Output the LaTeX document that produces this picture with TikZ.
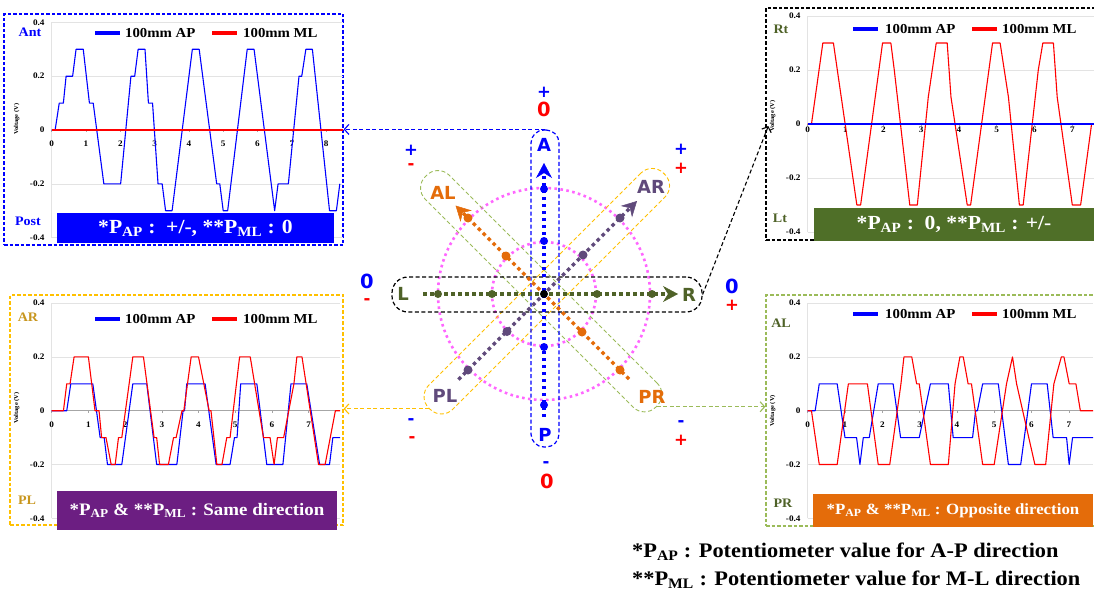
\documentclass[tikz,border=0pt]{standalone}
\usepackage{fontspec}
\setmainfont{Liberation Serif}[FakeStretch=1.08]
\newfontfamily\dejavu{DejaVu Sans}
\usetikzlibrary{arrows.meta,positioning,calc}
\definecolor{mlgreen}{RGB}{79,98,40}
\definecolor{alorange}{RGB}{228,108,10}
\definecolor{arpurple}{RGB}{96,74,123}
\definecolor{pinkdot}{RGB}{255,102,255}
\definecolor{gold}{RGB}{255,192,0}
\definecolor{lightgreen}{RGB}{155,187,89}
\definecolor{goldtext}{RGB}{200,150,30}
\definecolor{capgreen}{RGB}{79,111,40}
\definecolor{cappurple}{RGB}{108,30,130}
\definecolor{caporange}{RGB}{228,108,10}

\begin{document}
\begin{tikzpicture}[x=1pt, y=-1pt,
	panel/.style={draw, line width=1.3pt, dash pattern=on 3.5pt off 2pt, fill=white},
	gridline/.style={draw=gray!22, line width=0.6pt},
	axisline/.style={draw=gray!70, line width=0.6pt},
	tick/.style={font=\bfseries\fontsize{8.5}{9}\selectfont, inner sep=0pt},
	volt/.style={font=\bfseries\fontsize{6}{7}\selectfont, rotate=90, inner sep=0pt},
	sig/.style={line width=1.1pt, line join=round},
	legline/.style={line width=4pt},
	leg/.style={font=\bfseries\fontsize{13.7}{15}\selectfont, anchor=west, inner sep=0pt},
	side/.style={font=\bfseries\fontsize{13}{15}\selectfont, inner sep=0pt},
	capbox/.style={text=white, inner sep=0pt},
	dirlabel/.style={font=\dejavu\bfseries\fontsize{18}{20}\selectfont, inner sep=0pt},
	sgn/.style={font=\dejavu\bfseries\fontsize{16.5}{18}\selectfont, inner sep=0pt},
	zero/.style={font=\dejavu\bfseries\fontsize{19.5}{21}\selectfont, inner sep=0pt},
	track/.style={line width=3.5pt, dash pattern=on 3.5pt off 3.5pt},
	head/.style={-{Stealth[length=15pt,width=16pt,inset=5pt,line width=0.5pt]}},
	ring/.style={draw=pinkdot, line width=2.6pt, dash pattern=on 2.6pt off 3.4pt},
	zone/.style={line width=1.2pt, dash pattern=on 4pt off 2.5pt},
	link/.style={line width=1.1pt, dash pattern=on 4pt off 2.5pt},
	barb/.style={-{Straight Barb[length=4.5pt,width=10pt,line width=1.1pt]}},
	note/.style={font=\bfseries\fontsize{20.7}{22}\selectfont, anchor=west, inner sep=0pt}]
	\useasboundingbox (0,0) rectangle (1094,594);

	% panels
	\node[panel, draw=blue, minimum width=339pt, minimum height=231pt] (TL) at (173.5,129.5) {};
	\node[panel, draw=black, minimum width=332pt, minimum height=232pt] (TR) at (932,124) {};
	\node[panel, draw=gold, minimum width=333pt, minimum height=230pt] (BL) at (176.5,410) {};
	\node[panel, draw=lightgreen, minimum width=331pt, minimum height=231pt] (BR) at (931.5,410.5) {};

	% top-left plot
	\begin{scope}[shift={(51.7,130)}, x=34.3pt, y=269pt]
		\foreach \v in {-0.4,-0.2,0.2,0.4} \draw[gridline] (0,\v) -- (8.5,\v);
		\draw[gridline] (0,-0.4) -- (0,0.4);
		\draw[axisline] (0,0) -- (8.5,0);
		\foreach \t in {0,...,8} {\draw[axisline] (\t,0) -- ++(0,-2pt);
			\node[tick] (tlx\t) at ([yshift=-14pt]\t,0) {\t};}
		\foreach \v [count=\i] in {0.4,0.2,0,-0.2,-0.4} \node[tick, left=7pt] (tly\i) at (0,\v) {\v};
		\node[volt] (tlv) at ([xshift=-35pt]0,0.04) {Voltage (V)};
		\draw[sig, blue] plot coordinates {(0,0) (0.1,0) (0.22,0.1) (0.34,0.1) (0.42,0.2) (0.61,0.2) (0.71,0.3) (0.92,0.3) (1.1,0.1) (1.21,0.1) (1.52,-0.2) (2.01,-0.2) (2.31,0.2) (2.42,0.2) (2.52,0.3) (2.72,0.3) (2.82,0.1) (2.94,0.1) (3.1,-0.2) (3.22,-0.2) (3.32,-0.3) (3.51,-0.3) (4.1,0.3) (4.3,0.3) (4.81,-0.2) (4.9,-0.2) (5.0,-0.3) (5.13,-0.3) (5.7,0.3) (5.9,0.3) (6.5,-0.3) (6.6,-0.2) (6.9,-0.2) (7.21,0.2) (7.29,0.2) (7.41,0.3) (7.6,0.3) (8.1,-0.3) (8.3,-0.3) (8.4,-0.2)};
		\draw[sig, red] (0,0) -- (8.5,0);
	\end{scope}
	\draw[legline, blue] (95,33) -- (120,33);
	\node[leg] (tlap) at (125,33) {100mm AP};
	\draw[legline, red] (212,33) -- (237,33);
	\node[leg] (tlml) at (243,33) {100mm ML};
	\node[side, text=blue] (ant) at (30,32) {Ant};
	\node[side, text=blue] (post) at (28,221) {Post};
	\node[capbox, fill=blue, minimum width=277pt, minimum height=30pt, font=\bfseries\fontsize{20}{22}\selectfont] (TLcap) at (195.5,228) {*P\textsubscript{AP} :\ \ +/-, **P\textsubscript{ML} : 0};

	% top-right plot
	\begin{scope}[shift={(807.7,124)}, x=37.8pt, y=270pt]
		\foreach \v in {-0.4,-0.2,0.2,0.4} \draw[gridline] (0,\v) -- (7.6,\v);
		\draw[gridline] (0,-0.4) -- (0,0.4);
		\draw[axisline] (0,0) -- (7.6,0);
		\foreach \t in {0,...,7} {\draw[axisline] (\t,0) -- ++(0,-2pt);
			\node[tick] (trx\t) at ([yshift=-6pt]\t,0) {\t};}
		\foreach \v [count=\i] in {0.4,0.2,0,-0.2,-0.4} \node[tick, left=7pt] (try\i) at (0,\v) {\v};
		\node[volt] (trv) at ([xshift=-35pt]0,0.03) {Voltage (V)};
		\draw[sig, red] plot coordinates {(0,0) (0.1,0) (0.4,0.3) (0.68,0.3) (1.3,-0.3) (1.4,-0.3) (1.98,0.3) (2.2,0.3) (2.29,0.2) (2.7,-0.3) (2.9,-0.3) (3.19,0.1) (3.4,0.3) (3.69,0.3) (3.79,0.1) (4.22,-0.3) (4.31,-0.3) (4.89,0.3) (5.09,0.3) (5.31,0.1) (5.6,-0.3) (5.7,-0.3) (6.1,0.2) (6.22,0.3) (6.5,0.3) (6.6,0.1) (7.0,-0.3) (7.22,-0.3) (7.51,0) (7.6,0)};
		\draw[sig, blue] (0,0) -- (7.6,0);
	\end{scope}
	\draw[legline, blue] (853,29) -- (878,29);
	\node[leg] (trap) at (885,29) {100mm AP};
	\draw[legline, red] (972,29) -- (997,29);
	\node[leg] (trml) at (1002,29) {100mm ML};
	\node[side, text=mlgreen] (rt) at (781,29) {Rt};
	\node[side, text=mlgreen] (lt) at (780,218) {Lt};
	\node[capbox, fill=capgreen, minimum width=280pt, minimum height=33pt, font=\bfseries\fontsize{20}{22}\selectfont] (TRcap) at (954,224.5) {*P\textsubscript{AP} :\ \ 0, **P\textsubscript{ML} : +/-};

	% bottom-left plot
	\begin{scope}[shift={(51.7,410.7)}, x=36.7pt, y=269pt]
		\foreach \v in {-0.4,-0.2,0.2,0.4} \draw[gridline] (0,\v) -- (7.86,\v);
		\draw[gridline] (0,-0.4) -- (0,0.4);
		\draw[axisline] (0,0) -- (7.86,0);
		\foreach \t in {0,...,7} {\draw[axisline] (\t,0) -- ++(0,-2pt);
			\node[tick] (blx\t) at ([yshift=-14pt]\t,0) {\t};}
		\foreach \v [count=\i] in {0.4,0.2,0,-0.2,-0.4} \node[tick, left=7pt] (bly\i) at (0,\v) {\v};
		\node[volt] (blv) at ([xshift=-35pt]0,0.01) {Voltage (V)};
		\draw[sig, blue] plot coordinates {(0,0) (0.41,0) (0.52,0.1) (1.12,0.1) (1.32,-0.1) (1.43,-0.1) (1.52,-0.2) (1.91,-0.2) (2.21,0.1) (2.59,0.1) (2.86,-0.2) (3.41,-0.2) (3.58,0) (3.62,0) (3.68,0.1) (4.18,0.1) (4.48,-0.2) (4.86,-0.2) (4.98,-0.1) (5.05,-0.1) (5.15,0.1) (5.59,0.1) (5.86,-0.2) (6.3,-0.2) (6.52,0.1) (6.95,0.1) (7.3,-0.2) (7.57,-0.2) (7.66,-0.1) (7.86,-0.1)};
		\draw[sig, red] plot coordinates {(0,0) (0.32,0) (0.41,0.1) (0.5,0.1) (0.61,0.2) (1.0,0.2) (1.18,0) (1.29,0) (1.36,-0.1) (1.48,-0.1) (1.62,-0.2) (1.73,-0.2) (1.82,-0.1) (1.91,-0.1) (2.21,0.2) (2.5,0.2) (2.79,-0.1) (2.86,-0.1) (2.94,-0.2) (3.18,-0.2) (3.32,-0.1) (3.39,-0.1) (3.55,0) (3.6,0) (3.8,0.2) (4.0,0.2) (4.29,0) (4.34,0) (4.5,-0.2) (4.64,-0.2) (4.77,-0.1) (4.86,-0.1) (5.12,0.2) (5.41,0.2) (5.77,-0.1) (5.95,-0.1) (6.06,-0.2) (6.15,-0.1) (6.32,-0.1) (6.6,0.1) (6.68,0.2) (6.82,0.2) (7.27,-0.2) (7.45,-0.2) (7.59,-0.1) (7.73,0) (7.86,0)};
	\end{scope}
	\draw[legline, blue] (95,319) -- (120,319);
	\node[leg] (blap) at (125,319) {100mm AP};
	\draw[legline, red] (212,319) -- (237,319);
	\node[leg] (blml) at (243,319) {100mm ML};
	\node[side, text=goldtext] (blar) at (28,317) {AR};
	\node[side, text=goldtext] (blpl) at (27,500) {PL};
	\node[capbox, fill=cappurple, minimum width=280pt, minimum height=39pt, font=\bfseries\fontsize{17.5}{20}\selectfont] (BLcap) at (197,510.5) {*P\textsubscript{AP} \& **P\textsubscript{ML} : Same direction};

	% bottom-right plot
	\begin{scope}[shift={(807.7,410.7)}, x=37.3pt, y=269pt]
		\foreach \v in {-0.4,-0.2,0.2,0.4} \draw[gridline] (0,\v) -- (7.65,\v);
		\draw[gridline] (0,-0.4) -- (0,0.4);
		\draw[axisline] (0,0) -- (7.65,0);
		\foreach \t in {0,...,7} {\draw[axisline] (\t,0) -- ++(0,-2pt);
			\node[tick] (brx\t) at ([yshift=-14pt]\t,0) {\t};}
		\foreach \v [count=\i] in {0.4,0.2,0,-0.2,-0.4} \node[tick, left=7pt] (bry\i) at (0,\v) {\v};
		\node[volt] (brv) at ([xshift=-35pt]0,0) {Voltage (V)};
		\draw[sig, blue] plot coordinates {(0,0) (0.2,0) (0.31,0.1) (0.79,0.1) (1.0,-0.1) (1.31,-0.1) (1.4,-0.2) (1.49,-0.1) (1.65,-0.1) (1.89,0.1) (2.29,0.1) (2.49,-0.1) (2.99,-0.1) (3.29,0.1) (3.77,0.1) (3.9,-0.1) (4.42,-0.1) (4.5,0) (4.55,0) (4.69,0.1) (5.11,0.1) (5.38,-0.2) (5.71,-0.2) (6.0,0.1) (6.42,0.1) (6.58,-0.1) (6.94,-0.1) (7.01,-0.2) (7.1,-0.1) (7.65,-0.1)};
		\draw[sig, red] plot coordinates {(0,0) (0.1,0) (0.31,-0.2) (0.79,-0.2) (1.09,0.1) (1.6,0.1) (1.89,-0.2) (2.2,-0.2) (2.5,0.1) (2.58,0.2) (2.79,0.2) (2.92,0.1) (2.99,0.1) (3.29,-0.2) (3.77,-0.2) (3.95,0.1) (4.08,0.2) (4.17,0.2) (4.3,0.1) (4.39,0.1) (4.69,-0.2) (5.0,-0.2) (5.33,0.1) (5.49,0.2) (5.6,0.1) (6.09,-0.2) (6.38,-0.2) (6.6,0.1) (6.8,0.2) (6.87,0.2) (7.01,0.1) (7.19,0.1) (7.31,0) (7.65,0)};
	\end{scope}
	\draw[legline, blue] (853,314) -- (878,314);
	\node[leg] (brap) at (885,314) {100mm AP};
	\draw[legline, red] (972,314) -- (997,314);
	\node[leg] (brml) at (1002,314) {100mm ML};
	\node[side, text=mlgreen] (bral) at (781,323) {AL};
	\node[side, text=mlgreen] (brpr) at (783,503) {PR};
	\node[capbox, fill=caporange, minimum width=280pt, minimum height=33pt, font=\bfseries\fontsize{15.6}{18}\selectfont] (BRcap) at (953,510.5) {*P\textsubscript{AP} \& **P\textsubscript{ML} : Opposite direction};

	% centre: rings and boxes
	\coordinate (O) at (544,294);
	\draw[ring] (O) circle (52);
	\draw[ring] (O) circle (106);
	\node[zone, line width=0.9pt, draw=gold, rounded corners=16pt, minimum width=332pt, minimum height=34pt, rotate=45] (ARbox) at (546.8,291.2) {};
	\node[zone, line width=0.9pt, draw=lightgreen, rounded corners=16pt, minimum width=326pt, minimum height=34pt, rotate=-45] (ALbox) at (541.2,291.2) {};
	\node[zone, draw=blue, rounded corners=13pt, minimum width=28pt, minimum height=317pt] (APbox) at (545,288.5) {};
	\node[zone, draw=black, rounded corners=16pt, minimum width=310pt, minimum height=35pt] (MLbox) at (547,294.5) {};

	% centre: tracks
	\coordinate (mlS) at (423,294);  \coordinate (mlE) at (678,294);
	\coordinate (arS) at (458.4,379.6); \coordinate (arE) at (637,201);
	\coordinate (alS) at (629,379);  \coordinate (alE) at (455.6,205.6);
	\coordinate (apS) at (544,417);  \coordinate (apE) at (544,163);
	\draw[track, mlgreen, head] (mlS) -- (mlE);
	\foreach \x in {438,492,597,652} \fill[mlgreen] (\x,294) circle (4);
	\draw[track, arpurple, head] (arS) -- (arE);
	\foreach \x/\y in {583/255,620/218,507/331.5,468/370} \fill[arpurple] (\x,\y) circle (4.5);
	\draw[track, alorange, head] (alS) -- (alE);
	\foreach \x/\y in {468/218,506/256,582/332,620/370} \fill[alorange] (\x,\y) circle (4.5);
	\draw[track, blue, head] (apS) -- (apE);
	\foreach \y in {189,241,347,405} \fill[blue] (544,\y) circle (4);
	\fill (O) circle (4);

	% centre: labels
	\node[dirlabel, text=blue] (A) at (544,145) {A};
	\node[dirlabel, text=blue] (P) at (545,435) {P};
	\node[dirlabel, text=mlgreen] (L) at (403,294) {L};
	\node[dirlabel, text=mlgreen] (R) at (689,295) {R};
	\node[dirlabel, text=alorange] (AL) at (443,193) {AL};
	\node[dirlabel, text=arpurple] (AR) at (651,187) {AR};
	\node[dirlabel, text=arpurple] (PL) at (445,396) {PL};
	\node[dirlabel, text=alorange] (PR) at (652,397) {PR};

	% centre: signs
	\node[sgn, text=blue] (sAap) at (544,92) {+};
	\node[zero, text=red] (sAml) at (544,109) {0};
	\node[sgn, text=blue] (sPap) at (546,465) {-};
	\node[zero, text=red] (sPml) at (547,481) {0};
	\node[zero, text=blue] (sLap) at (367,281) {0};
	\node[sgn, text=red] (sLml) at (367,302) {-};
	\node[zero, text=blue] (sRap) at (732,286) {0};
	\node[sgn, text=red] (sRml) at (732,305) {+};
	\node[sgn, text=blue] (sALap) at (411,150) {+};
	\node[sgn, text=red] (sALml) at (411,167) {-};
	\node[sgn, text=blue] (sARap) at (681,149) {+};
	\node[sgn, text=red] (sARml) at (681,168) {+};
	\node[sgn, text=blue] (sPLap) at (411,422) {-};
	\node[sgn, text=red] (sPLml) at (412,440) {-};
	\node[sgn, text=blue] (sPRap) at (681,424) {-};
	\node[sgn, text=red] (sPRml) at (681,440) {+};

	% links to the plots
	\draw[link, blue, barb] (APbox.north) -- (APbox.north -| TL.east);
	\draw[link, black, barb] (MLbox.east) -- ([xshift=3pt,yshift=-2pt]TR.west);
	\draw[link, gold, barb] (ARbox.west) -- (ARbox.west -| BL.east);
	\draw[link, lightgreen, barb] (ALbox.east) -- (ALbox.east -| BR.west);

	% notes
	\node[note] (nAP) at (632,552) {*P\textsubscript{AP} : Potentiometer value for A-P direction};
	\node[note] (nML) at (632,580) {**P\textsubscript{ML} : Potentiometer value for M-L direction};
\end{tikzpicture}
\end{document}
